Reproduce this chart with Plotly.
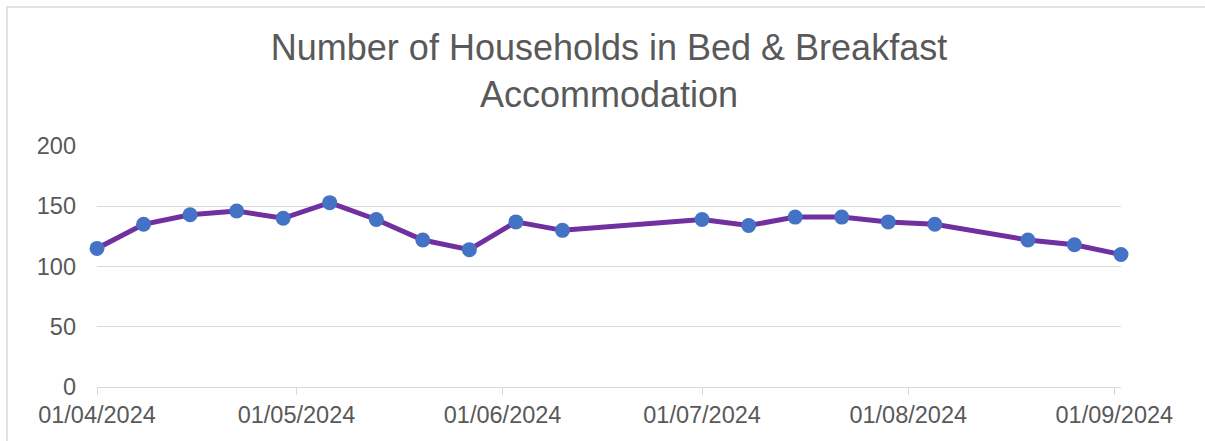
import plotly.graph_objects as go

dates = ["2024-04-01", "2024-04-08", "2024-04-15", "2024-04-22", "2024-04-29",
         "2024-05-06", "2024-05-13", "2024-05-20", "2024-05-27", "2024-06-03",
         "2024-06-10", "2024-07-01", "2024-07-08", "2024-07-15", "2024-07-22",
         "2024-07-29", "2024-08-05", "2024-08-19", "2024-08-26", "2024-09-02"]
households = [115, 135, 143, 146, 140, 153, 139, 122, 114, 137,
              130, 139, 134, 141, 141, 137, 135, 122, 118, 110]
y_ticks = [0, 50, 100, 150, 200]
title_text = "Number of Households in Bed & Breakfast<br>Accommodation"

W, H = 1205, 441
L, R, T, B = 97, 84, 146, 54
pw, ph = W - L - R, H - T - B

fig = go.Figure()
fig.add_trace(go.Scatter(
    x=dates, y=households, mode="lines+markers",
    line=dict(color="#7030A0", width=5),
    marker=dict(color="#4472C4", size=15),
    cliponaxis=False, showlegend=False,
))

grey = "#595959"
fig.update_layout(
    width=W, height=H,
    margin=dict(l=L, r=R, t=T, b=B),
    paper_bgcolor="white", plot_bgcolor="white",
    font=dict(family="Liberation Sans, Arial, sans-serif", color=grey),
    title=dict(text=title_text, x=0.5, xref="paper", xanchor="center",
               y=1 - 60 / H, yanchor="middle",
               font=dict(size=36, color=grey)),
    xaxis=dict(
        type="date", range=["2024-04-01", "2024-09-02"],
        tick0="2024-04-01", dtick="M1", tickformat="%d/%m/%Y",
        showgrid=False, showline=True, linecolor="#D9D9D9", linewidth=1,
        ticks="outside", ticklen=7, tickcolor="#D9D9D9",
        tickfont=dict(size=23.5, color=grey), zeroline=False,
    ),
    yaxis=dict(
        range=[0, 200], tickvals=y_ticks,
        showgrid=True, gridcolor="#D9D9D9", gridwidth=1,
        showline=False, zeroline=False, ticks="",
        tickfont=dict(size=23.5, color=grey), ticklabelstandoff=20,
    ),
    shapes=[dict(type="rect", xref="paper", yref="paper",
                 x0=(7 - L) / pw, x1=(W + 20 - L) / pw,
                 y0=-0.5, y1=(H - B - 7) / ph,
                 line=dict(color="#D9D9D9", width=1.5), layer="below")],
)
fig.write_html("out.html", config={"displayModeBar": False},
               post_script="document.body.style.margin='0';document.body.style.overflow='hidden';")
